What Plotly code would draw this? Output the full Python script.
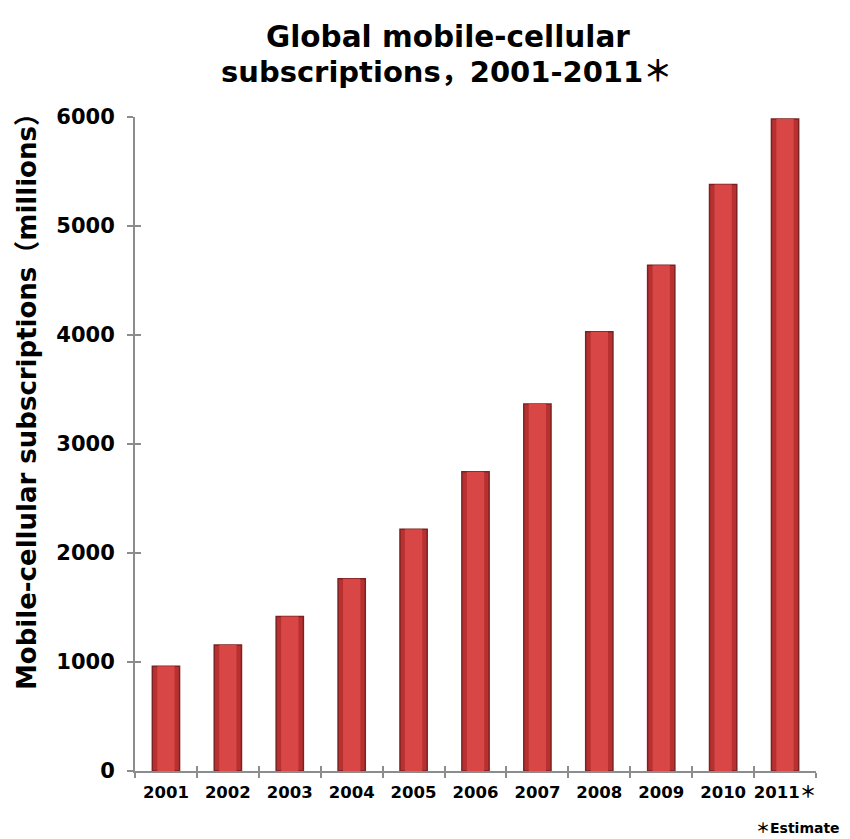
import plotly.graph_objects as go

years = ["2001", "2002", "2003", "2004", "2005", "2006", "2007", "2008", "2009", "2010", "2011＊"]
subscriptions = [961, 1157, 1417, 1763, 2219, 2745, 3368, 4030, 4640, 5380, 5981]
y_ticks = [0, 1000, 2000, 3000, 4000, 5000, 6000]

FONT = "DejaVu Sans, Noto Sans CJK JP, sans-serif"
AXIS_COL = "#8c8c8c"

W, H = 850, 839
ML, MR, MT, MB = 135, 34, 117, 68
PW, PH = W - ML - MR, H - MT - MB


def px_x(x):
    return (x - ML) / PW


def px_y(y):
    return 1 - (y - MT) / PH


fig = go.Figure()
fig.add_trace(go.Bar(
    x=years, y=subscriptions, width=0.44,
    marker=dict(color="#b83030", line=dict(color="#7d2222", width=1.5)),
    hoverinfo="x+y",
))
fig.add_trace(go.Bar(
    x=years, y=subscriptions, width=0.28,
    marker=dict(color="#d84646", line=dict(width=0)),
    hoverinfo="skip",
))
# inner half of the crossing ticks
fig.add_trace(go.Scatter(x=years, y=[None] * len(years), yaxis="y2", xaxis="x2",
                         showlegend=False, hoverinfo="skip"))

fig.update_layout(
    width=W, height=H,
    margin=dict(l=ML, r=MR, t=MT, b=MB),
    plot_bgcolor="white", paper_bgcolor="white",
    showlegend=False,
    barmode="overlay",
    font=dict(family=FONT, color="black"),
    xaxis=dict(
        type="category", tickson="boundaries", ticks="outside", ticklen=5,
        tickcolor=AXIS_COL, tickwidth=2, showline=True, linecolor=AXIS_COL, linewidth=2,
        showgrid=False, zeroline=False, tickangle=0, ticklabelstandoff=5,
        tickfont=dict(size=16.5, family=FONT, color="black", weight="bold"),
        range=[-0.5, 10.5],
    ),
    xaxis2=dict(
        type="category", tickson="boundaries", ticks="inside", ticklen=5,
        tickcolor=AXIS_COL, tickwidth=2, showline=False, showticklabels=False,
        showgrid=False, zeroline=False, overlaying="x", range=[-0.5, 10.5],
        categoryarray=years, categoryorder="array",
    ),
    yaxis=dict(
        range=[0, 6000], tickvals=y_ticks, ticks="outside", ticklen=6,
        tickcolor=AXIS_COL, tickwidth=2, showline=True, linecolor=AXIS_COL, linewidth=2,
        showgrid=False, zeroline=False, ticklabelstandoff=8,
        tickfont=dict(size=21, family=FONT, color="black", weight="bold"),
    ),
    yaxis2=dict(
        range=[0, 6000], tickvals=y_ticks, ticks="inside", ticklen=6,
        tickcolor=AXIS_COL, tickwidth=2, showline=False, showticklabels=False,
        showgrid=False, zeroline=False, overlaying="y",
    ),
    annotations=[
        dict(text="<b>Global mobile-cellular</b>",
             xref="paper", yref="paper", x=px_x(448), y=px_y(37),
             xanchor="center", yanchor="middle", showarrow=False,
             font=dict(size=29.5, family=FONT, color="black")),
        dict(text="<b>subscriptions，2001-2011＊</b>",
             xref="paper", yref="paper", x=px_x(446), y=px_y(72),
             xanchor="center", yanchor="middle", showarrow=False,
             font=dict(size=29, family=FONT, color="black")),
        dict(text="<b>Mobile-cellular subscriptions（millions）</b>", textangle=-90,
             xref="paper", yref="paper", x=px_x(27), y=px_y(395),
             xanchor="center", yanchor="middle", showarrow=False,
             font=dict(size=26, family=FONT, color="black")),
        dict(text="<b>＊Estimate</b>", xref="paper", yref="paper",
             x=px_x(842), y=px_y(828),
             xanchor="right", yanchor="middle", showarrow=False,
             font=dict(size=14, family=FONT, color="black")),
    ],
)

fig.write_html("out.html")
